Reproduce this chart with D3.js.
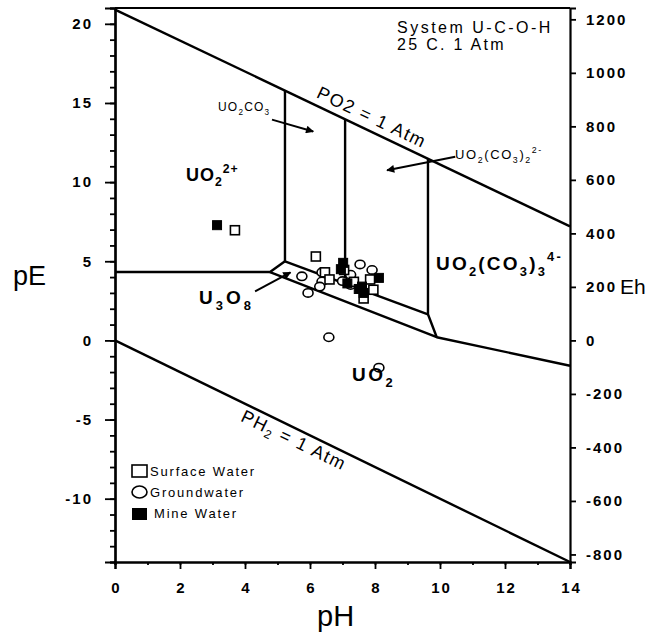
<!DOCTYPE html>
<html>
<head>
<meta charset="utf-8">
<script src="https://cdn.jsdelivr.net/npm/d3@7"></script>
<style>
  body { margin: 0; background: #fff; }
  svg { font-family: "Liberation Sans", Arial, sans-serif; }
</style>
</head>
<body>
<script>
const w = 660;
const h = 633;

// pH / pE values
const pHTicks = [0, 2, 4, 6, 8, 10, 12, 14];
const pETicks = [20, 15, 10, 5, 0, -5, -10];
const ehTicks = [1200, 1000, 800, 600, 400, 200, 0, -200, -400, -600, -800];

const o2Line = [[0, 20.9], [14, 7.2]];
const h2Line = [[0, 0], [14, -14]];
const uo2U3o8 = [[0, 4.32], [4.77, 4.32], [5.23, 5.0]];
const vert1 = [[5.23, 15.78], [5.23, 5.0]];
const vert2 = [[7.08, 13.97], [7.08, 3.6]];
const vert3 = [[9.63, 11.48], [9.63, 1.65], [9.9, 0.2]];
const upperBand = [[5.23, 5.0], [9.63, 1.65]];
const lowerBand = [[4.77, 4.32], [9.9, 0.2], [14, -1.6]];

const surfaceWater = [
  [3.69, 6.96], [6.18, 5.3], [6.46, 4.3], [6.6, 3.85], [7.05, 4.45],
  [7.85, 3.85], [7.95, 3.2], [7.65, 2.65], [7.35, 3.7]
];
const groundwater = [
  [5.75, 4.05], [5.94, 3.0], [6.37, 4.3], [6.37, 3.72], [6.3, 3.4],
  [7.54, 4.8], [7.91, 4.45], [7.25, 4.15], [7.0, 3.75], [7.25, 3.5],
  [6.58, 0.2], [8.12, -1.72]
];
const mineWater = [
  [3.14, 7.28], [7.02, 4.9], [6.95, 4.5], [8.12, 3.95], [7.15, 3.6],
  [7.6, 3.4], [7.65, 3.0], [7.5, 3.25]
];

const x = d3.scaleLinear().domain([0, 14]).range([115, 570]);
const y = d3.scaleLinear().domain([-14, 21]).range([562, 8]);
const yEh = d3.scaleLinear().domain([-14 * 59.16, 21 * 59.16]).range([562, 8]);

const svg = d3.select("body").append("svg").attr("width", w).attr("height", h);

const defs = svg.append("defs");
defs.append("marker")
  .attr("id", "arrow")
  .attr("viewBox", "0 0 10 10")
  .attr("refX", 9).attr("refY", 5)
  .attr("markerWidth", 10).attr("markerHeight", 8)
  .attr("markerUnits", "userSpaceOnUse")
  .attr("orient", "auto")
  .append("path").attr("d", "M0,0 L10,5 L0,10 Z").attr("fill", "#000");

// frame
svg.append("line")
  .attr("x1", x(0)).attr("x2", x(14)).attr("y1", y(21)).attr("y2", y(21))
  .attr("stroke", "#000").attr("stroke-width", 2);

const plain = (d) => String(d);

// left axis with minor ticks
const left = svg.append("g").attr("transform", `translate(${x(0)},0)`)
  .call(d3.axisLeft(y).tickValues(d3.range(-14, 22, 1)).tickSize(5).tickFormat(""));
left.append("g").call(d3.axisLeft(y).tickValues(pETicks).tickSize(10).tickFormat(plain));

// right Eh axis
const right = svg.append("g").attr("transform", `translate(${x(14)},0)`)
  .call(d3.axisRight(yEh).tickValues(ehTicks).tickSize(6).tickFormat(plain));

// bottom axis
const bottom = svg.append("g").attr("transform", `translate(0,${y(-14)})`)
  .call(d3.axisBottom(x).tickValues(d3.range(0, 15, 1)).tickSize(3).tickFormat(""));
bottom.append("g").call(d3.axisBottom(x).tickValues(pHTicks).tickSize(7).tickFormat(plain));

svg.selectAll(".domain").attr("stroke-width", 2.2);
svg.selectAll(".tick line").attr("stroke-width", 1.8);
svg.selectAll(".tick text")
  .attr("font-size", 15).attr("font-weight", "bold").attr("letter-spacing", 2)
  .attr("font-family", "Liberation Sans, Arial, sans-serif").attr("fill", "#000");
left.selectAll(".tick text").attr("x", -22);
right.selectAll(".tick text").attr("x", 16);
bottom.selectAll(".tick text").attr("y", 20).attr("dx", 1);

// boundaries
const line = d3.line().x((d) => x(d[0])).y((d) => y(d[1]));
[o2Line, h2Line, uo2U3o8, vert1, vert2, vert3, upperBand, lowerBand].forEach((d) => {
  svg.append("path").attr("d", line(d))
    .attr("fill", "none").attr("stroke", "#000")
    .attr("stroke-width", 2.4).attr("stroke-linejoin", "round");
});

// samples
svg.selectAll(".gw").data(groundwater).enter().append("ellipse")
  .attr("cx", (d) => x(d[0])).attr("cy", (d) => y(d[1]))
  .attr("rx", 5).attr("ry", 4.2)
  .attr("fill", "#fff").attr("stroke", "#000").attr("stroke-width", 1.6);
svg.selectAll(".sw").data(surfaceWater).enter().append("rect")
  .attr("x", (d) => x(d[0]) - 4.5).attr("y", (d) => y(d[1]) - 4.5)
  .attr("width", 9).attr("height", 9)
  .attr("fill", "#fff").attr("stroke", "#000").attr("stroke-width", 1.6);
svg.selectAll(".mw").data(mineWater).enter().append("rect")
  .attr("x", (d) => x(d[0]) - 4.5).attr("y", (d) => y(d[1]) - 4.5)
  .attr("width", 9).attr("height", 9)
  .attr("fill", "#000").attr("stroke", "#000").attr("stroke-width", 1);

// chemical formula helper
function chem(px, py, parts, size, weight, spacing) {
  const t = svg.append("text").attr("x", px).attr("y", py)
    .attr("font-size", size).attr("font-weight", weight || "bold")
    .attr("letter-spacing", spacing || 0);
  let shift = 0;
  parts.forEach(([s, k]) => {
    const target = k === "sub" ? size * 0.3 : k === "sup" ? -size * 0.45 : 0;
    t.append("tspan").attr("dy", target - shift)
      .attr("font-size", k === "n" ? size : size * 0.68).text(s);
    shift = target;
  });
  return t;
}

chem(186, 181, [["UO", "n"], ["2", "sub"], ["2+", "sup"]], 18, "bold", 1);
chem(436, 270, [["UO", "n"], ["2", "sub"], ["(CO", "n"], ["3", "sub"], [")", "n"], ["3", "sub"], ["4-", "sup"]], 19, "bold", 2.2);
chem(199, 304, [["U", "n"], ["3", "sub"], ["O", "n"], ["8", "sub"]], 19, "bold", 3);
chem(352, 381, [["UO", "n"], ["2", "sub"]], 19, "bold", 2.5);
chem(218, 111, [["UO", "n"], ["2", "sub"], ["CO", "n"], ["3", "sub"]], 12, "normal", 1.2);
chem(455, 159, [["UO", "n"], ["2", "sub"], ["(CO", "n"], ["3", "sub"], [")", "n"], ["2", "sub"], ["2-", "sup"]], 13, "normal", 1.6);

// arrows
[[[4.83, 13.95], [6.1, 13.2]], [[10.47, 11.6], [8.37, 10.75]], [[4.31, 3.1], [5.4, 4.3]]].forEach((d) => {
  svg.append("path").attr("d", line(d))
    .attr("stroke", "#000").attr("stroke-width", 2).attr("marker-end", "url(#arrow)");
});

// gas lines labels
svg.append("text")
  .attr("transform", "translate(372,117) rotate(25.5)")
  .attr("text-anchor", "middle").attr("dy", "0.35em")
  .attr("font-size", 18).attr("letter-spacing", 1.5).text("PO2 = 1 Atm");
const ph2 = svg.append("text")
  .attr("transform", "translate(294,440) rotate(26)")
  .attr("text-anchor", "middle").attr("dy", "0.35em")
  .attr("font-size", 18).attr("letter-spacing", 1.5);
ph2.append("tspan").text("PH");
ph2.append("tspan").attr("font-size", 12).attr("dy", 4).text("2");
ph2.append("tspan").attr("dy", -4).text(" = 1 Atm");

svg.append("text").attr("x", 397).attr("y", 33).attr("font-size", 16)
  .attr("letter-spacing", 2.5).text("System U-C-O-H");
svg.append("text").attr("x", 397).attr("y", 50).attr("font-size", 16)
  .attr("letter-spacing", 2.3).text("25 C. 1 Atm");

// axis titles
svg.append("text").attr("x", 13).attr("y", 285).attr("font-size", 27).text("pE");
svg.append("text").attr("x", 620).attr("y", 294).attr("font-size", 21).text("Eh");
svg.append("text").attr("x", 317).attr("y", 626).attr("font-size", 29).text("pH");

// legend
const legend = svg.append("g").attr("font-size", 13).attr("letter-spacing", 1.8);
legend.append("rect").attr("x", 132).attr("y", 465).attr("width", 15).attr("height", 12)
  .attr("fill", "#fff").attr("stroke", "#000").attr("stroke-width", 1.6);
legend.append("text").attr("x", 150).attr("y", 476).text("Surface Water");
legend.append("ellipse").attr("cx", 139.5).attr("cy", 492).attr("rx", 7.5).attr("ry", 6)
  .attr("fill", "#fff").attr("stroke", "#000").attr("stroke-width", 1.6);
legend.append("text").attr("x", 150).attr("y", 497).text("Groundwater");
legend.append("rect").attr("x", 132).attr("y", 508).attr("width", 15).attr("height", 12)
  .attr("fill", "#000");
legend.append("text").attr("x", 154).attr("y", 518).text("Mine Water");
</script>
</body>
</html>
